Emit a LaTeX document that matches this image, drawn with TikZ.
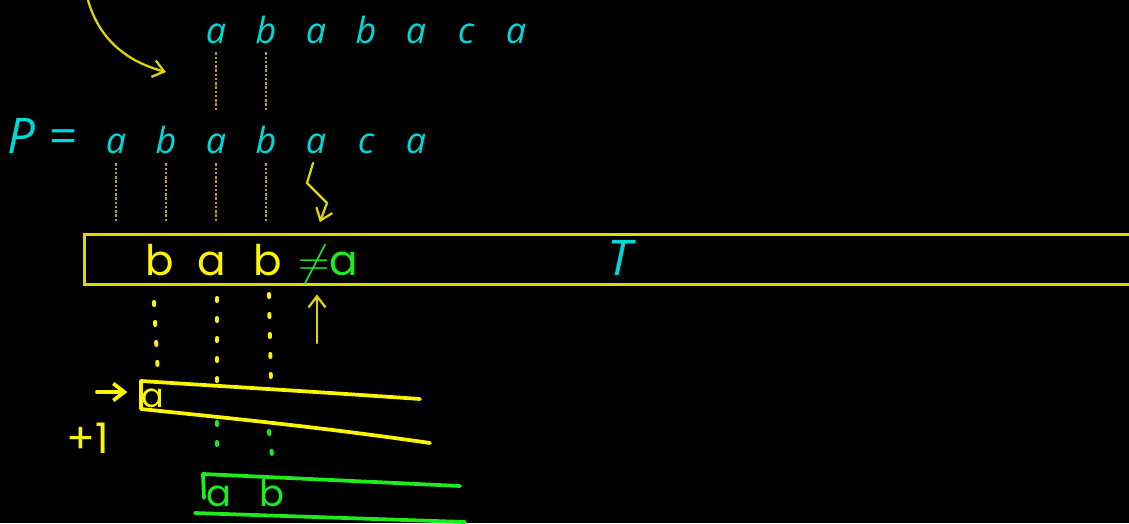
\documentclass[tikz,border=0pt]{standalone}
\usepackage{fontspec}
\usetikzlibrary{arrows.meta,positioning}
\newfontfamily\slidefont{Open Sans}
\newfontfamily\penfont{Poppins}
\definecolor{slidecyan}{RGB}{0,215,215}
\definecolor{penyellow}{RGB}{250,245,0}
\definecolor{penline}{RGB}{225,215,0}
\definecolor{penguide}{RGB}{185,165,20}
\definecolor{pengreen}{RGB}{30,235,30}

\tikzstyle{letter}=[inner sep=0pt,text height=3mm,text depth=0pt,text=slidecyan,font=\slidefont\itshape\fontsize{20.5}{24}\selectfont]
\tikzstyle{bigletter}=[letter,font=\slidefont\itshape\fontsize{28}{32}\selectfont]
\tikzstyle{pen}=[inner sep=0pt,text height=3mm,text depth=0pt,text=penyellow,font=\penfont\fontsize{24}{28}\selectfont]
\tikzstyle{greenpen}=[pen,text=pengreen,font=\penfont\fontsize{21}{26}\selectfont]
\tikzstyle{guide}=[draw=penguide,line width=0.35mm,dash pattern=on 0.5mm off 0.35mm]
\tikzstyle{stroke}=[draw=penyellow,line width=0.75mm,line cap=round,line join=round]
\tikzstyle{thinstroke}=[draw=penline,line width=0.45mm,line cap=round,line join=round]
\tikzstyle{dots}=[stroke,line width=0.8mm,dash pattern=on 0.6mm off 3.4mm]
\tikzstyle{tape}=[draw=penline,line width=0.6mm,minimum width=213mm,minimum height=10mm,inner sep=0pt]

\begin{document}
\begin{tikzpicture}[x=0.2mm,y=-0.2mm,node distance=1cm,>={Straight Barb[length=2.2mm,width=3.4mm]}]
  \fill[black] (0,0) rectangle (1129,523);
  \useasboundingbox (0,0) rectangle (1129,523);
  \clip (0,0) rectangle (1129,523);

  % pattern P
  \node [bigletter] (plabel) at (42,145.5) {P = };
  \node [letter] (p1) at (116,145.5) {a};
  \node [letter] (p2) [right of=p1] {b};
  \node [letter] (p3) [right of=p2] {a};
  \node [letter] (p4) [right of=p3] {b};
  \node [letter] (p5) [right of=p4] {a};
  \node [letter] (p6) [right of=p5] {c};
  \node [letter] (p7) [right of=p6] {a};

  % shifted copy
  \node [letter] (t1) [above of=p3,yshift=1.2cm] {a};
  \node [letter] (t2) [right of=t1] {b};
  \node [letter] (t3) [right of=t2] {a};
  \node [letter] (t4) [right of=t3] {b};
  \node [letter] (t5) [right of=t4] {a};
  \node [letter] (t6) [right of=t5] {c};
  \node [letter] (t7) [right of=t6] {a};

  \draw [guide,shorten <=1.8mm,shorten >=5.6mm] (t1.south) -- (p3.north);
  \draw [guide,shorten <=1.8mm,shorten >=5.6mm] (t2.south) -- (p4.north);

  % text T
  \node [tape] (tbox) at (617.5,259) {};
  \node [bigletter] (tlabel) at (620,267.5) {T};

  \foreach \n in {p1,p2,p3,p4}
    \draw [guide,shorten <=2mm,shorten >=2.4mm] (\n.south) -- (\n.south |- tbox.north);

  \node [pen] (hb1) at (160,267.5) {b};
  \node [pen] (ha1) [right of=hb1,xshift=0.04cm] {a};
  \node [pen] (hb2) [right of=ha1,xshift=0.12cm] {b};
  \node [pen,text=pengreen] (hne) [right of=hb2,xshift=0.2cm] {$\neq$a};

  % mismatch arrows
  \coordinate (swoopstart) at (86,-8);
  \coordinate (swoopend) at (166,72);
  \draw [thinstroke,->] (swoopstart) to[out=-78,in=165] (swoopend);

  \coordinate (z1) at (307,183);
  \coordinate (z2) at (327,203);
  \draw [thinstroke,->,shorten <=2mm,shorten >=2.2mm] (p5.south) -- (z1) -- (z2) -- (p5.south |- tbox.north);

  \coordinate (upfoot) at (317,343);
  \draw [thinstroke,->,shorten >=1.8mm] (upfoot) -- (upfoot |- tbox.south);

  % yellow shift
  \coordinate (d1s) at (154,302);
  \coordinate (d1e) at (158,376);
  \coordinate (d2s) at (217,298);
  \coordinate (d2e) at (217,390);
  \coordinate (d3s) at (269,294);
  \coordinate (d3e) at (271,386);
  \draw [dots] (d1s) -- (d1e);
  \draw [dots] (d2s) -- (d2e);
  \draw [dots] (d3s) -- (d3e);

  \coordinate (ytr) at (420,399);
  \coordinate (ytl) at (141,381);
  \coordinate (ybl) at (141,409);
  \coordinate (ybr) at (430,443);
  \draw [stroke] (ytr) .. controls (320,392) and (218,386) .. (ytl) -- (ybl) .. controls (218,417) and (320,427) .. (ybr);

  \node [pen,font=\penfont\fontsize{19}{24}\selectfont] (sa) at (153,400) {a};
  \coordinate (pushtail) at (97,392);
  \draw [stroke,->,shorten >=2.8mm] (pushtail) -- (sa.west |- pushtail);
  \node [pen] (plusone) at (88,446) {+1};

  % green shift
  \coordinate (g1s) at (217,422);
  \coordinate (g1e) at (217,458);
  \coordinate (g2s) at (269,431);
  \coordinate (g2e) at (272,455);
  \draw [dots,draw=pengreen] (g1s) -- (g1e);
  \draw [dots,draw=pengreen] (g2s) -- (g2e);

  \coordinate (gtr) at (460,486);
  \coordinate (gtl) at (203,474);
  \coordinate (gvl) at (204,498);
  \coordinate (gbl) at (195,513);
  \coordinate (gbr) at (465,522);
  \draw [stroke,draw=pengreen] (gtr) -- (gtl) -- (gvl);
  \draw [stroke,draw=pengreen] (gbl) -- (gbr);

  \node [greenpen] (ga) at (219,499) {a};
  \node [greenpen] (gb) [right of=ga,xshift=0.06cm] {b};
\end{tikzpicture}
\end{document}
